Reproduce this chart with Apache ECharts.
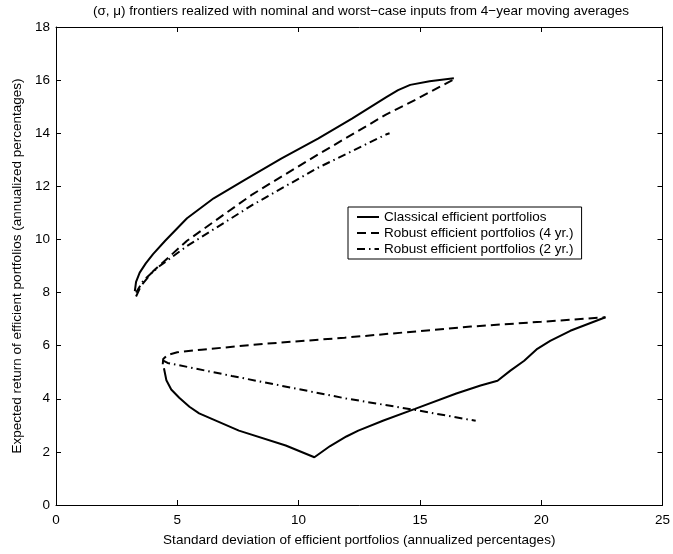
<!DOCTYPE html>
<html>
<head>
<meta charset="utf-8">
<script src="https://cdn.jsdelivr.net/npm/echarts@6/dist/echarts.min.js"></script>
<style>
  html, body { margin: 0; padding: 0; background: #fff; }
  #chart { width: 673px; height: 554px; }
</style>
</head>
<body>
<div id="chart"></div>
<script>
// Axis ranges and tick labels
const xTicks = [0, 5, 10, 15, 20, 25];
const yTicks = [0, 2, 4, 6, 8, 10, 12, 14, 16, 18];

// Legend names
const seriesNames = [
  'Classical efficient portfolios',
  'Robust efficient portfolios (4 yr.)',
  'Robust efficient portfolios (2 yr.)'
];

const chartTitle = '(\u03c3, \u03bc) frontiers realized with nominal and worst\u2212case inputs from 4\u2212year moving averages';

// Frontiers with nominal inputs (sigma, mu)
const classicalNominal = [
  [3.25, 8.05], [3.3, 8.4], [3.45, 8.75], [3.7, 9.1], [4.0, 9.45], [4.5, 9.95],
  [5.4, 10.8], [6.5, 11.55], [7.8, 12.25], [9.3, 13.05], [10.8, 13.8], [12.2, 14.55],
  [13.6, 15.35], [14.1, 15.62], [14.6, 15.82], [15.4, 15.96], [16.4, 16.07]
];
const robust4Nominal = [
  [3.3, 7.85], [3.5, 8.25], [4.0, 8.8], [5.4, 9.95], [8.1, 11.7], [10.8, 13.2],
  [13.6, 14.7], [14.9, 15.3], [16.4, 16.03]
];
const robust2Nominal = [
  [3.3, 8.0], [3.6, 8.45], [4.2, 8.95], [5.4, 9.75], [8.1, 11.3], [10.8, 12.7],
  [13.6, 13.95], [13.75, 14.0]
];

// Frontiers with worst-case inputs (sigma, mu)
const classicalWorst = [
  [4.45, 5.15], [4.55, 4.7], [4.75, 4.35], [5.08, 4.04], [5.5, 3.7], [5.9, 3.45],
  [7.54, 2.8], [9.47, 2.24], [10.65, 1.8], [11.3, 2.22], [11.97, 2.58], [12.46, 2.8],
  [13.5, 3.18], [14.8, 3.62], [16.5, 4.2], [17.5, 4.5], [18.2, 4.68], [18.73, 5.06],
  [19.3, 5.43], [19.84, 5.88], [20.37, 6.18], [21.2, 6.56], [22.65, 7.07]
];
const robust4Worst = [
  [4.4, 5.3], [4.42, 5.5], [4.6, 5.65], [5.0, 5.75], [6.0, 5.85], [8.6, 6.07],
  [11.9, 6.3], [17.1, 6.72], [20.0, 6.9], [22.65, 7.07]
];
const robust2Worst = [
  [4.4, 5.45], [4.6, 5.35], [7.25, 4.86], [11.9, 4.02], [14.8, 3.58], [17.3, 3.17]
];

const FONT = '"Liberation Sans", Arial, Helvetica, sans-serif';
const FS = 13.5;
const DASHED = [9, 5];
const DASHDOT = [8, 4, 1.5, 4];

function curve(name, data, dash) {
  return {
    type: 'line',
    name: name,
    data: data,
    showSymbol: false,
    symbol: 'none',
    smooth: false,
    clip: false,
    lineStyle: { color: '#000', width: 2, type: dash || 'solid' },
    itemStyle: { color: '#000' },
    emphasis: { disabled: true }
  };
}

function xAxisDef(pos, labels) {
  return {
    type: 'value', position: pos, min: xTicks[0], max: xTicks[xTicks.length - 1], interval: 5,
    axisLine: { show: true, onZero: false, lineStyle: { color: '#000', width: 1 } },
    axisTick: { show: true, inside: true, length: 5, lineStyle: { color: '#000' } },
    axisLabel: { show: labels, color: '#000', fontSize: FS, fontFamily: FONT, margin: 8 },
    splitLine: { show: false }
  };
}
function yAxisDef(pos, labels) {
  return {
    type: 'value', position: pos, min: yTicks[0], max: yTicks[yTicks.length - 1], interval: 2,
    axisLine: { show: true, onZero: false, lineStyle: { color: '#000', width: 1 } },
    axisTick: { show: true, inside: true, length: 5, lineStyle: { color: '#000' } },
    axisLabel: { show: labels, color: '#000', fontSize: FS, fontFamily: FONT, margin: 6 },
    splitLine: { show: false }
  };
}

const xBottom = xAxisDef('bottom', true);
xBottom.name = 'Standard deviation of efficient portfolios (annualized percentages)';
xBottom.nameLocation = 'middle';
xBottom.nameGap = 28;
xBottom.nameTextStyle = { color: '#000', fontSize: FS, fontFamily: FONT };

const yLeft = yAxisDef('left', true);
yLeft.name = 'Expected return of efficient portfolios (annualized percentages)';
yLeft.nameLocation = 'middle';
yLeft.nameGap = 31;
yLeft.nameTextStyle = { color: '#000', fontSize: FS, fontFamily: FONT };

const chart = echarts.init(document.getElementById('chart'), null, { renderer: 'canvas' });
chart.setOption({
  animation: false,
  backgroundColor: '#fff',
  // title centred over the plot box rather than the canvas
  graphic: [{
    type: 'text',
    x: 361,
    y: 4,
    style: {
      text: chartTitle,
      align: 'center',
      verticalAlign: 'top',
      fill: '#000',
      fontSize: FS,
      fontFamily: FONT
    }
  }],
  grid: { left: 56, right: 7, top: 27, bottom: 49, containLabel: false },
  xAxis: [xBottom, xAxisDef('top', false)],
  yAxis: [yLeft, yAxisDef('right', false)],
  legend: {
    data: seriesNames,
    orient: 'vertical',
    left: 348,
    top: 207,
    padding: [3, 8, 3, 8],
    itemGap: 2,
    itemWidth: 22,
    itemHeight: 14,
    backgroundColor: '#fff',
    borderColor: '#000',
    borderWidth: 1,
    selectedMode: false,
    itemStyle: { opacity: 0 },
    textStyle: { color: '#000', fontSize: FS, fontFamily: FONT }
  },
  series: [
    curve(seriesNames[0], classicalNominal),
    curve(seriesNames[1], robust4Nominal, DASHED),
    curve(seriesNames[2], robust2Nominal, DASHDOT),
    curve(seriesNames[0], classicalWorst),
    curve(seriesNames[1], robust4Worst, DASHED),
    curve(seriesNames[2], robust2Worst, DASHDOT)
  ]
});
</script>
</body>
</html>
